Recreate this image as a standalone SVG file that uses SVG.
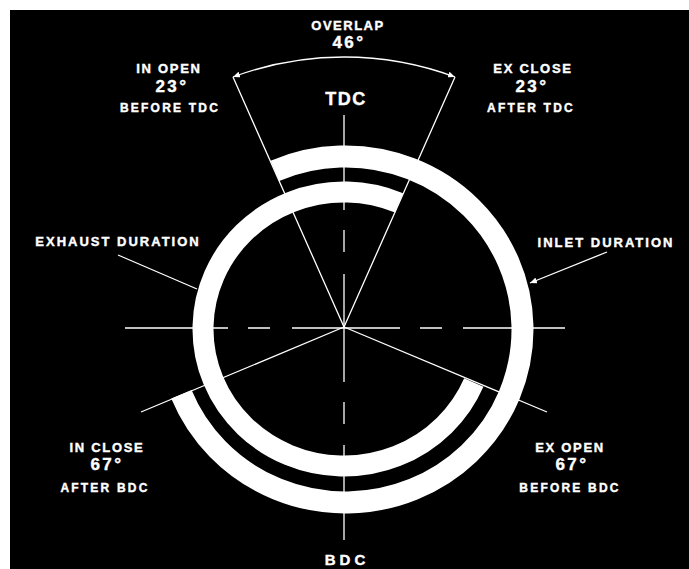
<svg xmlns="http://www.w3.org/2000/svg" width="689" height="569" viewBox="0 0 689 569">
<style>
.t{font-family:"Liberation Sans",Arial,sans-serif;font-weight:bold;fill:#fff;stroke:#fff;stroke-width:0.4;text-anchor:middle}
.s12{font-size:12px;letter-spacing:2.2px}
.s13{font-size:13px;letter-spacing:1.7px}
.s17{font-size:17px;letter-spacing:2.5px}
.ln{stroke:#fff;stroke-width:1.3;fill:none}
.ring{stroke:#fff;fill:none}
</style>
<defs>
<marker id="ah" markerUnits="userSpaceOnUse" markerWidth="7" markerHeight="6" refX="7" refY="3" orient="auto-start-reverse">
<path d="M0,0 L7,3 L0,6 z" fill="#fff"/>
</marker>
</defs>
<rect x="0" y="0" width="689" height="569" fill="#fff"/>
<rect x="10" y="10" width="679" height="559" fill="#000"/>

<g id="connectors">
<path class="ln" d="M125,328H228 M248,328H270 M292,328H400 M420,328H442 M463,328H565"/>
<path class="ln" d="M344,115V210 M344,230V252 M344,274V382 M344,402V424 M344,445V540"/>
<path class="ln" d="M344,327L233,77 M344,327L455,77 M344,327L547,412 M344,327L141,412"/>
<path class="ln" d="M233,77 A318,318 0 0 1 455,77" marker-start="url(#ah)" marker-end="url(#ah)"/>
<path class="ln" d="M118,255L197,289"/>
<path class="ln" d="M607,252L530,283" marker-end="url(#ah)"/>
</g>

<g id="inlet-ring">
<path class="ring" stroke-width="22" d="M274.9,170.8 A177,173 0 1 1 181.4,394.3"/>
</g>
<g id="exhaust-ring">
<path class="ring" stroke-width="21" d="M473.8,382.5 A141,137 0 1 1 399.1,202.9"/>
</g>

<g id="overlap">
<text class="t s13" x="348" y="30" style="letter-spacing:1.5px">OVERLAP</text>
<text class="t s17" x="349" y="48">46°</text>
</g>
<g id="in-open">
<text class="t s13" x="169" y="73">IN OPEN</text>
<text class="t s17" x="172" y="92">23°</text>
<text class="t s12" x="170" y="112">BEFORE TDC</text>
</g>
<g id="ex-close">
<text class="t s13" x="533" y="73">EX CLOSE</text>
<text class="t s17" x="532" y="92">23°</text>
<text class="t s12" x="531" y="112">AFTER TDC</text>
</g>
<g id="tdc">
<text class="t" x="346" y="105" style="font-size:18px;letter-spacing:1.5px">TDC</text>
</g>
<g id="exhaust-duration">
<text class="t s13" x="118" y="246" style="letter-spacing:2px">EXHAUST DURATION</text>
</g>
<g id="inlet-duration">
<text class="t s13" x="606" y="247" style="letter-spacing:2px">INLET DURATION</text>
</g>
<g id="in-close">
<text class="t s13" x="107" y="452">IN CLOSE</text>
<text class="t s17" x="107" y="470">67°</text>
<text class="t s12" x="105" y="492">AFTER BDC</text>
</g>
<g id="ex-open">
<text class="t s13" x="570" y="452">EX OPEN</text>
<text class="t s17" x="572" y="470">67°</text>
<text class="t s12" x="570" y="492">BEFORE BDC</text>
</g>
<g id="bdc">
<text class="t" x="347" y="565" style="font-size:15px;letter-spacing:4px">BDC</text>
</g>
</svg>
